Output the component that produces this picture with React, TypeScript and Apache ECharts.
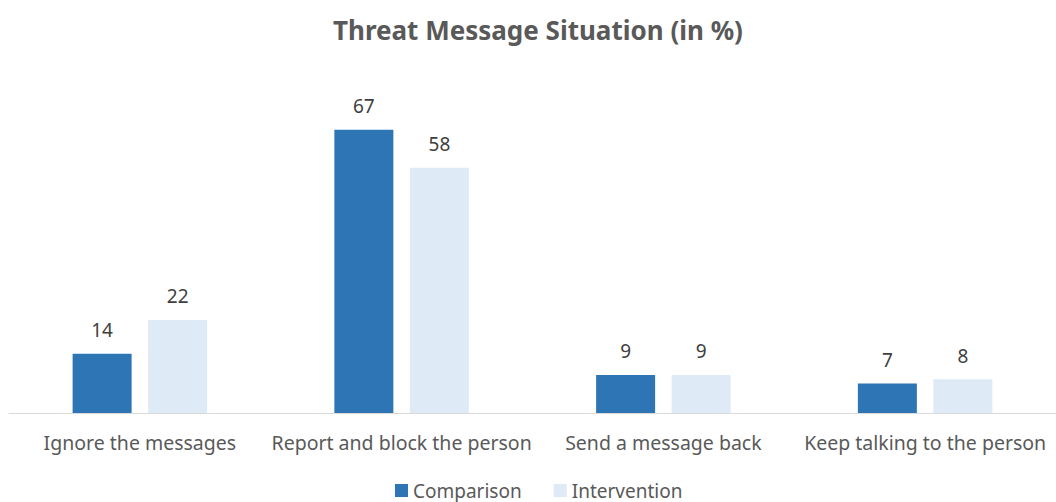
import React, { useEffect, useRef } from "react";
import * as echarts from "echarts";

const categories = [
  "Ignore the messages",
  "Report and block the person",
  "Send a message back",
  "Keep talking to the person",
];
const comparison = [14, 67, 9, 7];
const intervention = [22, 58, 9, 8];
const seriesNames = ["Comparison", "Intervention"];
const titleText = "Threat Message Situation (in %)";

const FONT = "'Noto Sans', sans-serif";

export default function App() {
  const ref = useRef<HTMLDivElement>(null);
  useEffect(() => {
    if (!ref.current) return;
    const chart = echarts.init(ref.current, undefined, { renderer: "svg" });
    const label = {
      show: true,
      position: "top" as const,
      distance: 14,
      color: "#404040",
      fontSize: 19,
      fontFamily: FONT,
    };
    chart.setOption({
      animation: false,
      backgroundColor: "#ffffff",
      title: {
        text: titleText,
        left: 328,
        top: 12,
        textStyle: {
          color: "#595959",
          fontSize: 26,
          fontWeight: "bold",
          fontFamily: FONT,
        },
      },
      legend: {
        top: 476,
        left: 390,
        itemWidth: 13,
        itemHeight: 13,
        itemGap: 32,
        icon: "rect",
        textStyle: { color: "#595959", fontSize: 19, fontFamily: FONT },
        data: seriesNames,
      },
      grid: { left: 9, width: 1058, top: 117, height: 296 },
      xAxis: {
        type: "category",
        data: categories,
        axisLine: { lineStyle: { color: "#d9d9d9", width: 1 } },
        axisTick: { show: false },
        axisLabel: {
          color: "#595959",
          fontSize: 19.5,
          fontFamily: FONT,
          margin: 19,
          interval: 0,
        },
      },
      yAxis: {
        type: "value",
        min: 0,
        max: 70,
        show: false,
        splitLine: { show: false },
      },
      series: [
        {
          name: seriesNames[0],
          type: "bar",
          data: comparison,
          barWidth: 59,
          barGap: "28%",
          itemStyle: { color: "#2E75B6" },
          label,
        },
        {
          name: seriesNames[1],
          type: "bar",
          data: intervention,
          barWidth: 59,
          barGap: "28%",
          itemStyle: { color: "#DEEBF7" },
          label,
        },
      ],
    });
    return () => chart.dispose();
  }, []);
  return (
    <div
      ref={ref}
      style={{ position: "fixed", left: 0, top: 0, width: 1056, height: 502 }}
    />
  );
}
